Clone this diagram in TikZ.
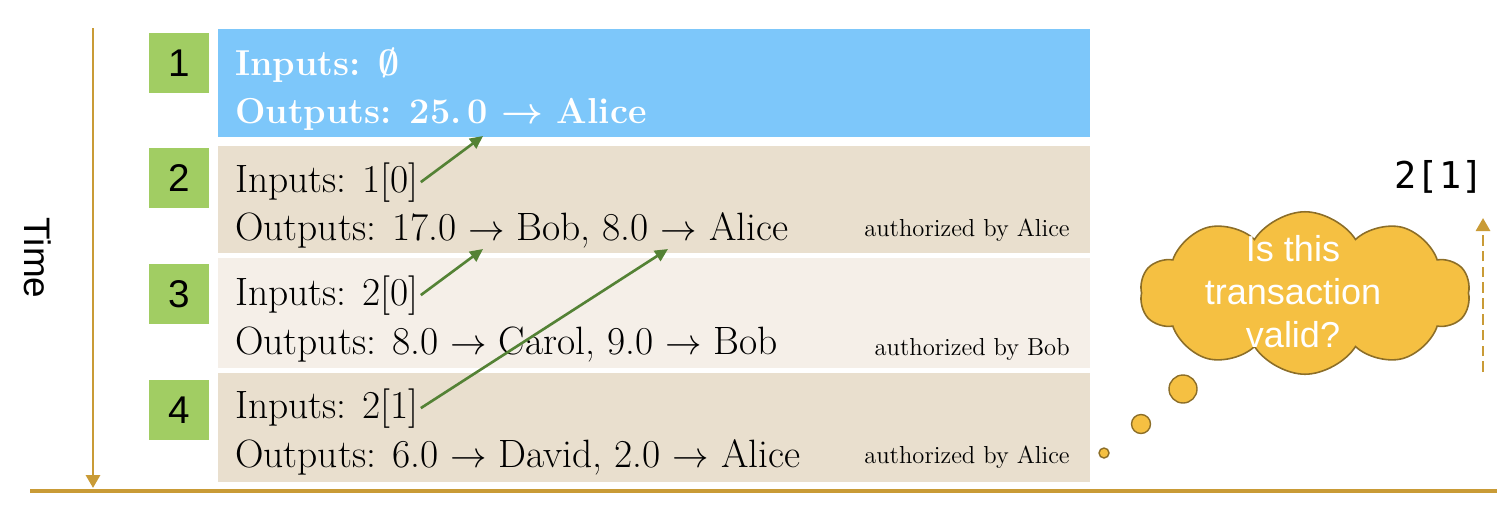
\documentclass[tikz,border=0pt]{standalone}
\usepackage{fontspec}
\usepackage{amssymb}
\usetikzlibrary{arrows.meta,positioning,shapes.symbols}
\newfontfamily\sansf{Liberation Sans}
\newfontfamily\monof{DejaVu Sans Mono}
\definecolor{tlgold}{RGB}{201,155,54}
\definecolor{tlgreen}{RGB}{161,205,99}
\definecolor{txblue}{RGB}{125,199,250}
\definecolor{txtan}{RGB}{233,223,206}
\definecolor{txlight}{RGB}{245,239,232}
\definecolor{lkgreen}{RGB}{84,130,53}
\definecolor{cdfill}{RGB}{245,192,66}
\definecolor{cdline}{RGB}{140,110,40}

\begin{document}
\begin{tikzpicture}[x=0.02cm,y=-0.02cm,
    txbox/.style={anchor=north west,minimum width=17.44cm,inner sep=0pt,outer sep=0pt},
    numbox/.style={fill=tlgreen,minimum width=1.22cm,minimum height=1.2cm,inner sep=0pt,
                   font=\sansf\fontsize{22}{26}\selectfont},
    ln/.style={anchor=base west,inner sep=1pt,font=\fontsize{22.5}{27}\selectfont},
    hd/.style={anchor=base west,inner sep=1pt,text=white,
               font=\fontsize{20.5}{25}\selectfont\bfseries},
    auth/.style={anchor=base east,inner sep=0pt,font=\fontsize{14}{16}\selectfont},
    link/.style={-{Triangle[length=0.26cm,width=0.24cm]},lkgreen,line width=1.5pt},
    bubble/.style={circle,draw=cdline,fill=cdfill,line width=0.8pt,inner sep=0pt}]

  \useasboundingbox (0,0) rectangle (1510,518);

  % time axis
  \coordinate (tTop) at (93,28);
  \coordinate (tBot) at (93,488);
  \draw[tlgold,line width=1.7pt,-{Triangle[length=0.26cm,width=0.28cm]}] (tTop) -- (tBot);
  \node[rotate=-90,font=\sansf\fontsize{21}{25}\selectfont] (time) at (38,258) {Time};
  \coordinate (gL) at (30,491);
  \coordinate (gR) at (1497,491);
  \draw[tlgold,line width=1.9pt] (gL) -- (gR);

  % transactions
  \node[txbox,fill=txblue,minimum height=2.16cm] (b1) at (218,29) {};
  \node[txbox,fill=txtan,minimum height=2.14cm] (b2) at (218,146) {};
  \node[txbox,fill=txlight,minimum height=2.2cm] (b3) at (218,258) {};
  \node[txbox,fill=txtan,minimum height=2.18cm] (b4) at (218,373) {};

  \node[numbox] (n1) at (179,63) {1};
  \node[numbox] (n2) at (179,178) {2};
  \node[numbox] (n3) at (179,294) {3};
  \node[numbox] (n4) at (179,410) {4};

  \node[hd] (in1) at (233,75) {Inputs: {\boldmath$\emptyset$}};
  \node[hd] (out1) at (233,123) {Outputs: 25.\,0 {\boldmath$\rightarrow$} Alice};

  \node[ln] (in2) at (233,192) {Inputs: 1[0]};
  \node[ln] (out2) at (233,240) {Outputs: 17.0 $\rightarrow$ Bob, 8.0 $\rightarrow$ Alice};
  \node[auth] (a2) at (1070,236) {authorized by Alice};

  \node[ln] (in3) at (233,305) {Inputs: 2[0]};
  \node[ln] (out3) at (233,354) {Outputs: 8.0 $\rightarrow$ Carol, 9.0 $\rightarrow$ Bob};
  \node[auth] (a3) at (1070,355) {authorized by Bob};

  \node[ln] (in4) at (233,418) {Inputs: 2[1]};
  \node[ln] (out4) at (233,467) {Outputs: 6.0 $\rightarrow$ David, 2.0 $\rightarrow$ Alice};
  \node[auth] (a4) at (1070,463) {authorized by Alice};

  % spent outputs
  \coordinate (o10) at (483,136);
  \coordinate (o20) at (483,249);
  \coordinate (o21) at (668,249);
  \draw[link] (in2.east) -- (o10);
  \draw[link] (in3.east) -- (o20);
  \draw[link] (in4.east) -- (o21);

  % thought
  \node[bubble,minimum size=0.2cm] (d1) at (1104,453) {};
  \node[bubble,minimum size=0.38cm] (d2) at (1141,424) {};
  \node[bubble,minimum size=0.56cm] (d3) at (1183,389) {};
  \node[cloud,cloud puffs=10,cloud puff arc=115,cloud ignores aspect,
        minimum width=6.6cm,minimum height=3.25cm,inner sep=0pt,
        draw=cdline,fill=cdfill,line width=0.9pt] (q) at (1305,293) {};
  \node[text=white,align=center,font=\sansf\fontsize{20.5}{24.5}\selectfont]
        (qt) at (1293,292) {Is this\\transaction\\valid?};

  \coordinate (up0) at (1483,372);
  \coordinate (up1) at (1483,218);
  \draw[tlgold,line width=1.6pt,dash pattern=on 6pt off 3pt,
        -{Triangle[length=0.26cm,width=0.28cm]}] (up0) -- (up1);
  \node[font=\monof\fontsize{21}{25}\selectfont] (ref) at (1439,177) {2[1]};
\end{tikzpicture}
\end{document}
